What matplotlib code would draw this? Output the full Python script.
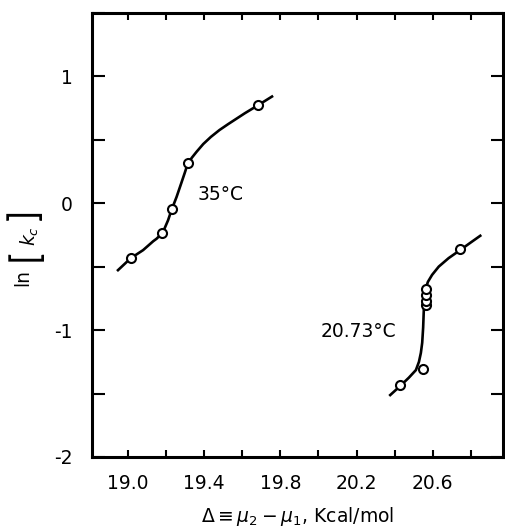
import numpy as np
import matplotlib
matplotlib.use('Agg')
import matplotlib.pyplot as plt
from matplotlib.ticker import MultipleLocator, FixedLocator

# measured points, 35 C
x35 = [19.016, 19.176, 19.232, 19.313, 19.681]
y35 = [-0.433, -0.239, -0.047, 0.313, 0.772]
# fitted curve, 35 C
cx35 = [18.947, 19.013, 19.079, 19.132, 19.150, 19.170, 19.190, 19.210, 19.228,
        19.255, 19.280, 19.298, 19.313, 19.335, 19.360, 19.395, 19.435, 19.480,
        19.525, 19.614, 19.679, 19.756]
cy35 = [-0.528, -0.435, -0.370, -0.300, -0.280, -0.250, -0.205, -0.135, -0.055,
        0.050, 0.160, 0.240, 0.310, 0.358, 0.405, 0.466, 0.522, 0.576,
        0.622, 0.709, 0.768, 0.840]

# measured points, 20.73 C
x2073 = [20.430, 20.547, 20.564, 20.564, 20.564, 20.564, 20.746]
y2073 = [-1.433, -1.309, -0.806, -0.769, -0.724, -0.674, -0.363]
# fitted curve, 20.73 C
cx2073 = [20.377, 20.430, 20.475, 20.512, 20.528, 20.538, 20.545, 20.550, 20.553,
          20.556, 20.562, 20.575, 20.597, 20.632, 20.684, 20.746, 20.800, 20.850]
cy2073 = [-1.512, -1.440, -1.375, -1.315, -1.250, -1.180, -1.100, -0.980, -0.860,
          -0.760, -0.680, -0.620, -0.565, -0.500, -0.433, -0.368, -0.310, -0.257]

yticks = [-2, -1, 0, 1]
yticklabels = ['-2', '-1', '0', '1']
xticks = [19.0, 19.4, 19.8, 20.2, 20.6]
xticklabels = ['19.0', '19.4', '19.8', '20.2', '20.6']

plt.rcParams['font.family'] = 'DejaVu Sans'
plt.rcParams['mathtext.fontset'] = 'dejavusans'
fs = 13.5

W, H = 505, 532
fig = plt.figure(figsize=(W / 100, H / 100), dpi=100)
ax = fig.add_axes([0.182, 0.141, 0.815, 0.835])

ax.plot(cx35, cy35, color='black', lw=1.9, solid_joinstyle='round')
ax.plot(cx2073, cy2073, color='black', lw=1.9, solid_joinstyle='round')
ax.plot(x35, y35, 'o', ms=6.5, mfc='white', mec='black', mew=1.5)
ax.plot(x2073, y2073, 'o', ms=6.5, mfc='white', mec='black', mew=1.5)

ax.text(19.363, 0.07, '35°C', fontsize=fs, va='center', ha='left')
ax.text(20.009, -1.013, '20.73°C', fontsize=fs, va='center', ha='left')

ax.set_xlim(18.81, 20.972)
ax.set_ylim(-2, 1.5)

ax.xaxis.set_major_locator(FixedLocator(xticks))
ax.set_xticklabels(xticklabels)
ax.xaxis.set_minor_locator(MultipleLocator(0.2))
ax.yaxis.set_major_locator(FixedLocator(yticks))
ax.set_yticklabels(yticklabels)
ax.yaxis.set_minor_locator(MultipleLocator(0.5))

ax.tick_params(axis='both', which='both', direction='in', top=True, right=True,
               width=1.5, labelsize=fs)
ax.tick_params(axis='x', which='both', length=5, pad=12)
ax.tick_params(axis='y', which='both', length=9, pad=14)

for s in ax.spines.values():
    s.set_linewidth(2.2)

ax.set_xlabel(r'$\Delta \equiv \mu_2 - \mu_1$, Kcal/mol', fontsize=fs, labelpad=9)

# y label ln[k_c] with tall brackets, built from pieces
def figtext(px, py, s, size, **kw):
    fig.text(px / W, 1 - py / H, s, fontsize=size, rotation=90,
             ha='center', va='center', **kw)

figtext(22.5, 277, 'ln', fs)
figtext(25, 255, '[', 27, family='Lato')
figtext(30, 236, r'$k_c$', fs)
figtext(25, 214, ']', 27, family='Lato')

fig.savefig('out.png', dpi=100)
